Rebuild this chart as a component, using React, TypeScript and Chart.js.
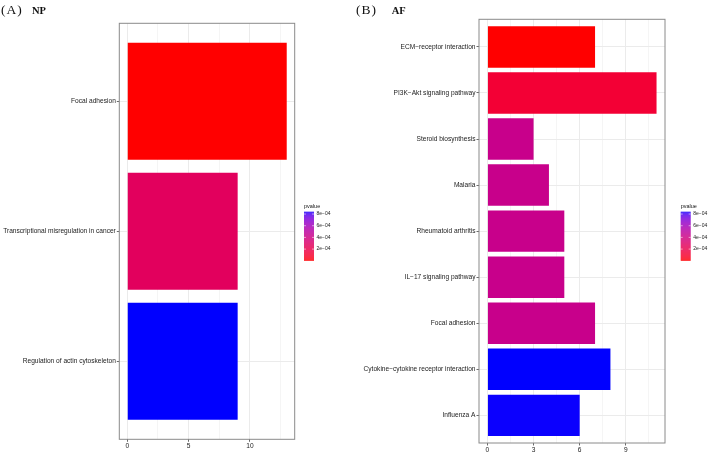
import { useEffect, useRef } from "react"
import { Chart, registerables } from "chart.js"

Chart.register(...registerables)

// NP panel
const npPathways = ["Focal adhesion", "Transcriptional misregulation in cancer", "Regulation of actin cytoskeleton"]
const npCounts = [13, 9, 9]
const npPvalues = [0.0000015, 0.00026, 0.00084]

// AF panel
const afPathways = [
  "ECM−receptor interaction",
  "PI3K−Akt signaling pathway",
  "Steroid biosynthesis",
  "Malaria",
  "Rheumatoid arthritis",
  "IL−17 signaling pathway",
  "Focal adhesion",
  "Cytokine−cytokine receptor interaction",
  "Influenza A",
]
const afCounts = [7, 11, 3, 4, 5, 5, 7, 8, 6]
const afPvalues = [0.0000012, 0.00012, 0.00043, 0.00043, 0.00043, 0.00043, 0.00043, 0.00084, 0.000838]

const legendTicks = [0.0002, 0.0004, 0.0006, 0.0008]
const legendTickLabels = ["2e−04", "4e−04", "6e−04", "8e−04"]

// red -> blue gradient in Lab, like ggplot's scale_fill_gradient
const toLinear = (c: number) => {
  c /= 255
  return c <= 0.04045 ? c / 12.92 : Math.pow((c + 0.055) / 1.055, 2.4)
}
const fromLinear = (c: number) => {
  const v = c <= 0.0031308 ? 12.92 * c : 1.055 * Math.pow(Math.max(c, 0), 1 / 2.4) - 0.055
  return Math.round(Math.min(1, Math.max(0, v)) * 255)
}
function rgbToLab(r: number, g: number, b: number) {
  const R = toLinear(r), G = toLinear(g), B = toLinear(b)
  const X = (0.4124 * R + 0.3576 * G + 0.1805 * B) / 0.95047
  const Y = 0.2126 * R + 0.7152 * G + 0.0722 * B
  const Z = (0.0193 * R + 0.1192 * G + 0.9505 * B) / 1.08883
  const f = (t: number) => (t > 0.008856 ? Math.cbrt(t) : 7.787 * t + 16 / 116)
  const fx = f(X), fy = f(Y), fz = f(Z)
  return [116 * fy - 16, 500 * (fx - fy), 200 * (fy - fz)]
}
function labToCss(L: number, a: number, b: number) {
  const fy = (L + 16) / 116
  const fx = fy + a / 500
  const fz = fy - b / 200
  const inv = (t: number) => (t * t * t > 0.008856 ? t * t * t : (t - 16 / 116) / 7.787)
  const X = inv(fx) * 0.95047, Y = inv(fy), Z = inv(fz) * 1.08883
  const R = 3.2406 * X - 1.5372 * Y - 0.4986 * Z
  const G = -0.9689 * X + 1.8758 * Y + 0.0415 * Z
  const B = 0.0557 * X - 0.204 * Y + 1.057 * Z
  return `rgb(${fromLinear(R)}, ${fromLinear(G)}, ${fromLinear(B)})`
}
const lowLab = rgbToLab(255, 0, 0)
const highLab = rgbToLab(0, 0, 255)
function gradientColor(t: number) {
  const k = Math.min(1, Math.max(0, t))
  return labToCss(
    lowLab[0] + (highLab[0] - lowLab[0]) * k,
    lowLab[1] + (highLab[1] - lowLab[1]) * k,
    lowLab[2] + (highLab[2] - lowLab[2]) * k
  )
}

const LABEL_FONT = "'Liberation Sans', Arial, sans-serif"
const TITLE_FONT = "'Liberation Serif', 'Times New Roman', serif"
const TEXT_COLOR = "#222"

interface PanelProps {
  letter: string
  name: string
  categories: string[]
  counts: number[]
  pvalues: number[]
  majorStep: number
  width: number
  yAxisWidth: number
  padTop: number
  padRight: number
  xAxisHeight: number
  legendGap: number
  nameX: number
}

function EnrichmentPanel(props: PanelProps) {
  const chartRef = useRef<HTMLCanvasElement>(null)

  useEffect(() => {
    if (!chartRef.current) return
    const ctx = chartRef.current.getContext("2d")
    if (!ctx) return

    const { categories, counts, pvalues, majorStep } = props
    const maxCount = Math.max(...counts)
    const pMin = Math.min(...pvalues)
    const pMax = Math.max(...pvalues)
    const colors = pvalues.map((p) => gradientColor((p - pMin) / (pMax - pMin)))
    const xTicks: number[] = []
    for (let v = 0; v <= maxCount * 1.05; v += majorStep / 2) xTicks.push(v)

    const decorations = {
      id: "decorations",
      afterDatasetsDraw(chart: Chart) {
        const { ctx: c, chartArea } = chart
        c.save()
        // panel border
        c.strokeStyle = "#8a8a8a"
        c.lineWidth = 1
        c.strokeRect(chartArea.left, chartArea.top, chartArea.right - chartArea.left, chartArea.bottom - chartArea.top)

        // panel title
        c.fillStyle = "#111"
        c.textBaseline = "alphabetic"
        c.font = `13.5px ${TITLE_FONT}`
        ;(c as any).letterSpacing = "1px"
        c.fillText(`(${props.letter})`, 1, 13.5)
        ;(c as any).letterSpacing = "0px"
        c.font = `bold 10.5px ${TITLE_FONT}`
        c.fillText(props.name, props.nameX, 13.5)

        // colour bar legend
        const lx = chartArea.right + props.legendGap
        const top = 211.7
        const h = 49
        const w = 10
        for (let i = 0; i < h; i++) {
          c.fillStyle = gradientColor(1 - (i + 0.5) / h)
          c.fillRect(lx, top + i, w, 1.05)
        }
        c.font = `5.5px ${LABEL_FONT}`
        c.fillStyle = "#111"
        c.fillText("pvalue", lx, 207.6)
        c.font = `5px ${LABEL_FONT}`
        c.fillStyle = TEXT_COLOR
        c.textBaseline = "middle"
        legendTicks.forEach((p, i) => {
          const y = top + h - ((p - pMin) / (pMax - pMin)) * h
          c.strokeStyle = "rgba(255,255,255,0.9)"
          c.lineWidth = 0.6
          c.beginPath()
          c.moveTo(lx, y)
          c.lineTo(lx + 2, y)
          c.moveTo(lx + w - 2, y)
          c.lineTo(lx + w, y)
          c.stroke()
          c.fillText(legendTickLabels[i], lx + w + 2.5, y)
        })
        c.restore()
      },
    }

    const chart = new Chart(ctx, {
      type: "bar",
      data: {
        datasets: [
          {
            data: counts.map((v, i) => ({ x: v, y: i + 1 })),
            backgroundColor: colors,
            borderWidth: 0,
            barPercentage: 0.9,
            categoryPercentage: 1,
          },
        ],
      },
      options: {
        indexAxis: "y",
        responsive: false,
        animation: false,
        layout: { padding: { top: props.padTop, right: props.padRight, left: 0, bottom: 0 } },
        plugins: { legend: { display: false }, tooltip: { enabled: false } },
        scales: {
          x: {
            type: "linear",
            offset: false,
            min: -0.05 * maxCount,
            max: 1.05 * maxCount,
            afterBuildTicks: (axis: any) => {
              axis.ticks = xTicks.map((value) => ({ value }))
            },
            afterFit: (scale: any) => {
              scale.height = props.xAxisHeight
            },
            border: { display: false },
            grid: {
              offset: false,
              color: "#ebebeb",
              lineWidth: (c: any) => (c.tick && c.tick.value % majorStep === 0 ? 1 : 0.5),
              tickColor: (c: any) => (c.tick && c.tick.value % majorStep === 0 ? "#444" : "rgba(0,0,0,0)"),
              tickLength: 2.5,
              tickWidth: 0.8,
            },
            ticks: {
              autoSkip: false,
              maxRotation: 0,
              padding: 0.5,
              color: TEXT_COLOR,
              font: { family: LABEL_FONT, size: 6.6 },
              callback: (value: any) => (Number(value) % majorStep === 0 ? String(value) : ""),
            },
          },
          y: {
            type: "linear",
            offset: false,
            reverse: true,
            min: 0.4,
            max: categories.length + 0.6,
            afterBuildTicks: (axis: any) => {
              axis.ticks = categories.map((_, i) => ({ value: i + 1 }))
            },
            afterFit: (scale: any) => {
              scale.width = props.yAxisWidth
            },
            border: { display: false },
            grid: {
              offset: false,
              color: "#ebebeb",
              lineWidth: 1,
              tickColor: "#444",
              tickLength: 2.5,
              tickWidth: 0.8,
            },
            ticks: {
              autoSkip: false,
              padding: 1,
              color: TEXT_COLOR,
              font: { family: LABEL_FONT, size: 6.6 },
              callback: (value: any) => categories[Math.round(Number(value)) - 1] ?? "",
            },
          },
        },
      },
      plugins: [decorations],
    } as any)

    return () => {
      chart.destroy()
    }
  }, [])

  return <canvas ref={chartRef} width={props.width} height={453} style={{ display: "block" }} />
}

export default function App() {
  return (
    <div style={{ position: "absolute", left: 0, top: 0, width: 709, height: 453, background: "#fff", display: "flex" }}>
      <EnrichmentPanel
        letter="A"
        name="NP"
        categories={npPathways}
        counts={npCounts}
        pvalues={npPvalues}
        majorStep={5}
        width={355}
        yAxisWidth={119.3}
        padTop={23.3}
        padRight={60.3}
        xAxisHeight={13.7}
        legendGap={9.3}
        nameX={32}
      />
      <EnrichmentPanel
        letter="B"
        name="AF"
        categories={afPathways}
        counts={afCounts}
        pvalues={afPvalues}
        majorStep={3}
        width={354}
        yAxisWidth={124}
        padTop={19.3}
        padRight={44}
        xAxisHeight={10}
        legendGap={15.7}
        nameX={36.7}
      />
    </div>
  )
}
